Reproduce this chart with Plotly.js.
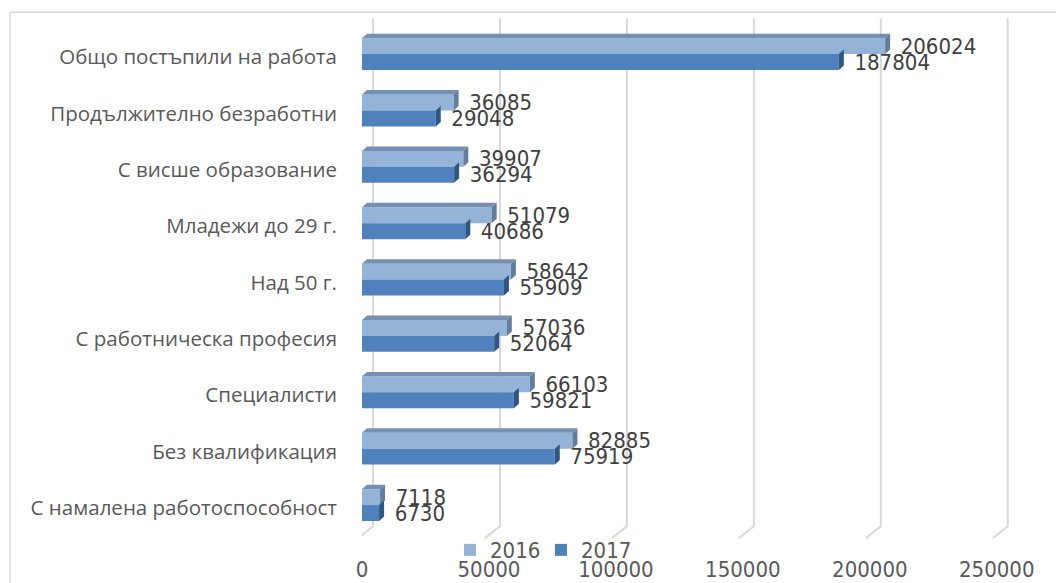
<!DOCTYPE html>
<html>
<head>
<meta charset="utf-8">
<script src="https://cdn.plot.ly/plotly-3.0.1.min.js"></script>
<style>
html,body{margin:0;padding:0;background:#fff;}
#chart{width:1056px;height:583px;}
</style>
</head>
<body>
<div id="chart"></div>
<script>
// ---- data ----
const categories = ['Общо постъпили на работа','Продължително безработни','С висше образование','Младежи до 29 г.','Над 50 г.','С работническа професия','Специалисти','Без квалификация','С намалена работоспособност'];
const series2016 = [206024,36085,39907,51079,58642,57036,66103,82885,7118];
const series2017 = [187804,29048,36294,40686,55909,52064,59821,75919,6730];
const seriesNames = ['2016','2017'];
const xTickVals = [0,50000,100000,150000,200000,250000];

// ---- geometry / style ----
const W = 1056, H = 583;
const PX0 = 362;                 // pixel of value 0
const PX_PER_UNIT = 127/50000;
const ROW0 = 54, ROW_H = 56.6;
const XMAX = 256000;
const YTOP = -0.64, YBOT = 8.62;
const mL = PX0, mR = W - (PX0 + XMAX*PX_PER_UNIT);
const mT = ROW0 + YTOP*ROW_H, mB = H - (ROW0 + YBOT*ROW_H);
const plotW = W - mL - mR, plotH = H - mT - mB;
const ux = px => px / PX_PER_UNIT;          // pixels -> x units
const uy = px => px / ROW_H;                // pixels -> y units
const yOfPx = py => (py - ROW0) / ROW_H;    // absolute pixel -> y value
const paperX = px => (px - mL) / plotW;
const paperY = py => (H - mB - py) / plotH;

const BAR_W = 16/ROW_H;
const DX = ux(5), DY = uy(4.5);
const numFont = '"Liberation Sans Narrow","DejaVu Sans Condensed","Arial Narrow",sans-serif';
const catFont = '"Open Sans","Noto Sans",sans-serif';

const idx = categories.map((_, i) => i);
const pad = '\u00a0\u00a0';

const traces = [
  {type:'bar', orientation:'h', name:seriesNames[0], x:series2016, y:idx,
   offset:-BAR_W, width:BAR_W, marker:{color:'#95B3D7', line:{width:0}},
   text:series2016.map(v => pad + v), textposition:'outside', constraintext:'none',
   cliponaxis:false, textfont:{family:numFont, size:22, color:'#404040'}, hoverinfo:'skip'},
  {type:'bar', orientation:'h', name:seriesNames[1], x:series2017, y:idx,
   offset:0, width:BAR_W, marker:{color:'#4F81BD', line:{width:0}},
   text:series2017.map(v => pad + v), textposition:'outside', constraintext:'none',
   cliponaxis:false, textfont:{family:numFont, size:22, color:'#404040'}, hoverinfo:'skip'}
];

const shapes = [];
// perspective gridlines (back wall + floor)
xTickVals.forEach(v => {
  const xf = v + ux(-4), xb = v + ux(11);
  shapes.push({type:'path', xref:'x', yref:'y', layer:'below',
    path:`M ${xf},${yOfPx(540)} L ${xb},${yOfPx(528)} L ${xb},${yOfPx(18)}`,
    line:{color:'#D9D9D9', width:2}});
});
const poly = pts => 'M ' + pts.map(p => p[0] + ',' + p[1]).join(' L ') + ' Z';
idx.forEach(i => {
  const a = series2016[i], b = series2017[i];
  const t = i - BAR_W, m = i, bt = i + BAR_W;
  shapes.push({type:'path', xref:'x', yref:'y', layer:'above', line:{width:0},
    fillcolor:'#7490B4', path:poly([[0,t],[a,t],[a+DX,t-DY],[DX,t-DY]])});
  shapes.push({type:'path', xref:'x', yref:'y', layer:'above', line:{width:0},
    fillcolor:'#637D9E', path:poly([[a,t],[a+DX,t-DY],[a+DX,m-DY],[a,m]])});
  shapes.push({type:'path', xref:'x', yref:'y', layer:'above', line:{width:0},
    fillcolor:'#2E5683', path:poly([[b,m],[b+DX,m-DY],[b+DX,bt-DY],[b,bt]])});
});
// chart frame
shapes.push({type:'line', xref:'paper', yref:'paper', x0:paperX(10), x1:paperX(1060), y0:paperY(12), y1:paperY(12), line:{color:'#D9D9D9', width:1.5}});
shapes.push({type:'line', xref:'paper', yref:'paper', x0:paperX(10), x1:paperX(10), y0:paperY(12), y1:paperY(590), line:{color:'#D9D9D9', width:1.5}});

const layout = {
  width:W, height:H,
  margin:{l:mL, r:mR, t:mT, b:mB, pad:0},
  paper_bgcolor:'#ffffff', plot_bgcolor:'rgba(0,0,0,0)',
  showlegend:true,
  legend:{orientation:'h', x:paperX(450), xanchor:'left', y:paperY(552), yanchor:'middle',
    entrywidth:46, entrywidthmode:'pixels',
    font:{family:numFont, size:22, color:'#595959'}, bgcolor:'rgba(0,0,0,0)', traceorder:'normal'},
  xaxis:{range:[0, XMAX], tickvals:xTickVals, ticktext:xTickVals.map(String), showgrid:false, zeroline:false,
    showline:false, ticks:'', automargin:false, fixedrange:true, ticklabelstandoff:14,
    tickfont:{family:numFont, size:22, color:'#595959'}},
  yaxis:{range:[YBOT, YTOP], tickvals:idx, ticktext:categories, showgrid:false, zeroline:false,
    showline:false, ticks:'', automargin:false, fixedrange:true, ticklabelstandoff:24, ticklabelshift:-3,
    tickfont:{family:catFont, size:20.5, color:'#595959'}},
  shapes:shapes
};

Plotly.newPlot('chart', traces, layout, {displayModeBar:false, staticPlot:true});
</script>
</body>
</html>
